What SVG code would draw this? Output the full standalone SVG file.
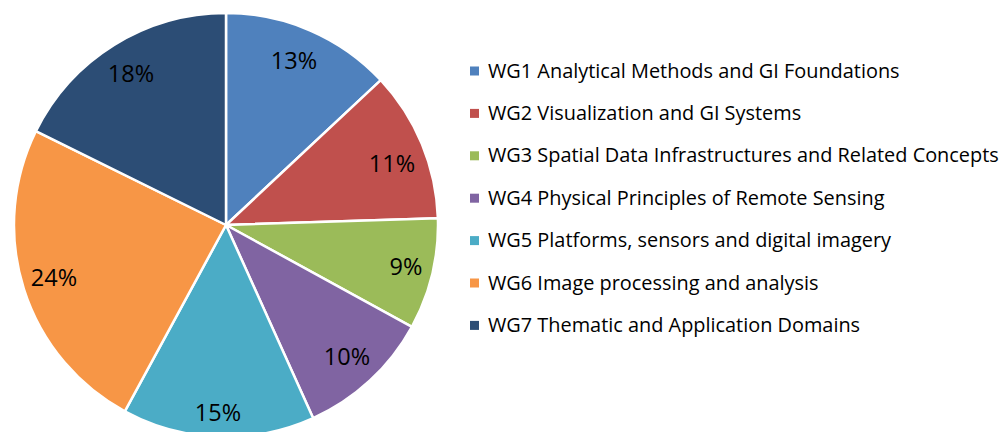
<svg xmlns="http://www.w3.org/2000/svg" width="1007" height="432" viewBox="0 0 1007 432">
  <style>
    .slice { stroke: #ffffff; stroke-width: 2.5; stroke-linejoin: round; }
    .pct { font-family: "Open Sans", "Liberation Sans", sans-serif; font-size: 23.5px; fill: #000000; text-anchor: middle; }
    .leg { font-family: "Open Sans", "Liberation Sans", sans-serif; font-size: 19.9px; fill: #000000; }
  </style>
  <rect width="1007" height="432" fill="#ffffff"/>

  <!-- pie: centre (226,225), radius 212, slices clockwise from 12 o'clock -->
  <g id="pie">
    <g id="wg1"><path class="slice" fill="#4F81BD" d="M226,225 L226,13 A212,212 0 0 1 380.8,80.1 Z"/><text class="pct" x="294" y="69">13%</text></g>
    <g id="wg2"><path class="slice" fill="#C0504D" d="M226,225 L380.8,80.1 A212,212 0 0 1 437.9,218.3 Z"/><text class="pct" x="392" y="172">11%</text></g>
    <g id="wg3"><path class="slice" fill="#9BBB59" d="M226,225 L437.9,218.3 A212,212 0 0 1 411.9,326.8 Z"/><text class="pct" x="406" y="275">9%</text></g>
    <g id="wg4"><path class="slice" fill="#8064A2" d="M226,225 L411.9,326.8 A212,212 0 0 1 313.2,418.2 Z"/><text class="pct" x="347" y="365">10%</text></g>
    <g id="wg5"><path class="slice" fill="#4BACC6" d="M226,225 L313.2,418.2 A212,212 0 0 1 124.8,411.3 Z"/><text class="pct" x="218" y="421">15%</text></g>
    <g id="wg6"><path class="slice" fill="#F79646" d="M226,225 L124.8,411.3 A212,212 0 0 1 35.9,131.1 Z"/><text class="pct" x="54" y="286">24%</text></g>
    <g id="wg7"><path class="slice" fill="#2C4D75" d="M226,225 L35.9,131.1 A212,212 0 0 1 226,13 Z"/><text class="pct" x="131" y="82">18%</text></g>
  </g>

  <!-- legend -->
  <g id="legend">
    <g id="leg1"><rect x="470" y="66.5" width="9" height="9" fill="#4F81BD"/><text class="leg" x="488" y="77.5">WG1 Analytical Methods and GI Foundations</text></g>
    <g id="leg2"><rect x="470" y="108.9" width="9" height="9" fill="#C0504D"/><text class="leg" x="488" y="119.9">WG2 Visualization and GI Systems</text></g>
    <g id="leg3"><rect x="470" y="151.3" width="9" height="9" fill="#9BBB59"/><text class="leg" x="488" y="162.3">WG3 Spatial Data Infrastructures and Related Concepts</text></g>
    <g id="leg4"><rect x="470" y="193.7" width="9" height="9" fill="#8064A2"/><text class="leg" x="488" y="204.7">WG4 Physical Principles of Remote Sensing</text></g>
    <g id="leg5"><rect x="470" y="236.1" width="9" height="9" fill="#4BACC6"/><text class="leg" x="488" y="247.1">WG5 Platforms, sensors and digital imagery</text></g>
    <g id="leg6"><rect x="470" y="278.5" width="9" height="9" fill="#F79646"/><text class="leg" x="488" y="289.5">WG6 Image processing and analysis</text></g>
    <g id="leg7"><rect x="470" y="320.9" width="9" height="9" fill="#2C4D75"/><text class="leg" x="488" y="331.9">WG7 Thematic and Application Domains</text></g>
  </g>
</svg>
